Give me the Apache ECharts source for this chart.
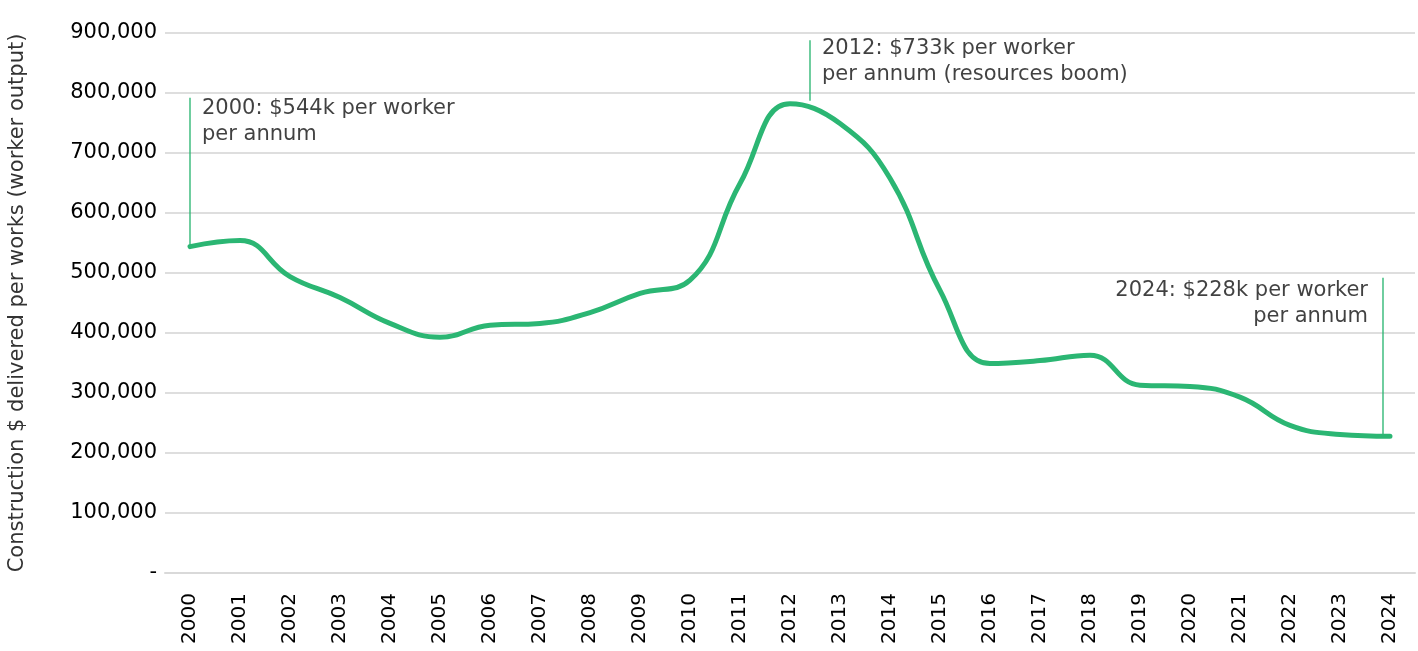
<!DOCTYPE html>
<html>
<head>
    <meta charset="utf-8">
    <title>Worker output</title>
    <script src="https://cdn.jsdelivr.net/npm/echarts@6/dist/echarts.min.js"></script>
    <style>
        html, body { margin: 0; padding: 0; background: #fff; }
    </style>
</head>
<body>
    <div id="main" style="width: 1418px;height:651px;"></div>
    <script type="text/javascript">
        var myChart = echarts.init(document.getElementById('main'));

        // years on the x axis
        var years = ['2000','2001','2002','2003','2004','2005','2006','2007','2008','2009','2010','2011','2012',
                     '2013','2014','2015','2016','2017','2018','2019','2020','2021','2022','2023','2024'];
        // construction $ delivered per worker
        var output = [544000, 554000, 494000, 459000, 416000, 393000, 413000, 416000, 434000, 466000, 488000, 649000, 782000,
                      749000, 658000, 471000, 349000, 354000, 363000, 313000, 311000, 293000, 246000, 231000, 228000];

        // annotations (x as category index, y in $)
        var noteText = ['2000: $544k per worker\nper annum',
                        '2012: $733k per worker\nper annum (resources boom)',
                        '2024: $228k per worker\nper annum'];
        var noteX = [0, 12.4, 23.86];
        var noteTop = [792000, 888000, 492000];
        var noteBottom = [544000, 787000, 228000];
        var noteTextY = [752000, 853000, 449000];
        var noteSide = ['right', 'right', 'left'];

        var green = '#2bb673';
        var font = 'DejaVu Sans';

        var series = [{
            type: 'line',
            data: output,
            smooth: 0.45,
            symbol: 'none',
            lineStyle: { color: green, width: 5, cap: 'round' },
            z: 3
        }];

        // thin leader lines
        for (var i = 0; i < noteText.length; i++) {
            series.push({
                type: 'line',
                xAxisIndex: 1,
                data: [[noteX[i], noteTop[i]], [noteX[i], noteBottom[i]]],
                symbol: 'none',
                silent: true,
                lineStyle: { color: '#22b36c', width: 1.3 },
                z: 2
            });
        }

        // annotation texts
        series.push({
            type: 'scatter',
            xAxisIndex: 1,
            symbolSize: 0,
            silent: true,
            data: noteText.map(function (t, i) {
                return {
                    value: [noteX[i], noteTextY[i]],
                    label: {
                        show: true,
                        formatter: t,
                        position: noteSide[i],
                        distance: noteSide[i] == 'left' ? 15 : 12,
                        align: noteSide[i] == 'left' ? 'right' : 'left',
                        fontFamily: font,
                        fontSize: 21,
                        lineHeight: 26,
                        color: '#111'
                    }
                };
            }),
            z: 4
        });

        var option = {
            animation: false,
            grid: { left: 165, right: 3, top: 33, bottom: 78, outerBoundsMode: 'none', containLabel: false },
            xAxis: [{
                type: 'category',
                data: years,
                boundaryGap: true,
                axisLine: { lineStyle: { color: '#d9d9d9', width: 2 } },
                axisTick: { alignWithLabel: true, length: 6, lineStyle: { color: '#d9d9d9', width: 2 } },
                axisLabel: { rotate: 90, margin: 20, fontSize: 20, color: '#000', fontFamily: font }
            }, {
                type: 'value',
                min: -0.5,
                max: 24.5,
                show: false
            }],
            yAxis: {
                type: 'value',
                min: 0,
                max: 900000,
                interval: 100000,
                name: 'Construction $ delivered per works (worker output)',
                nameLocation: 'middle',
                nameGap: 137,
                nameTextStyle: { fontSize: 21, color: '#333', fontFamily: font },
                axisLine: { show: false },
                axisTick: { show: false },
                splitLine: { lineStyle: { color: '#dedede', width: 2 } },
                axisLabel: {
                    margin: 8,
                    fontSize: 21,
                    color: '#000',
                    fontFamily: font,
                    formatter: function (v) {
                        return v === 0 ? '-' : v.toLocaleString('en-US');
                    }
                }
            },
            series: series
        };

        myChart.setOption(option);
    </script>
</body>
</html>
